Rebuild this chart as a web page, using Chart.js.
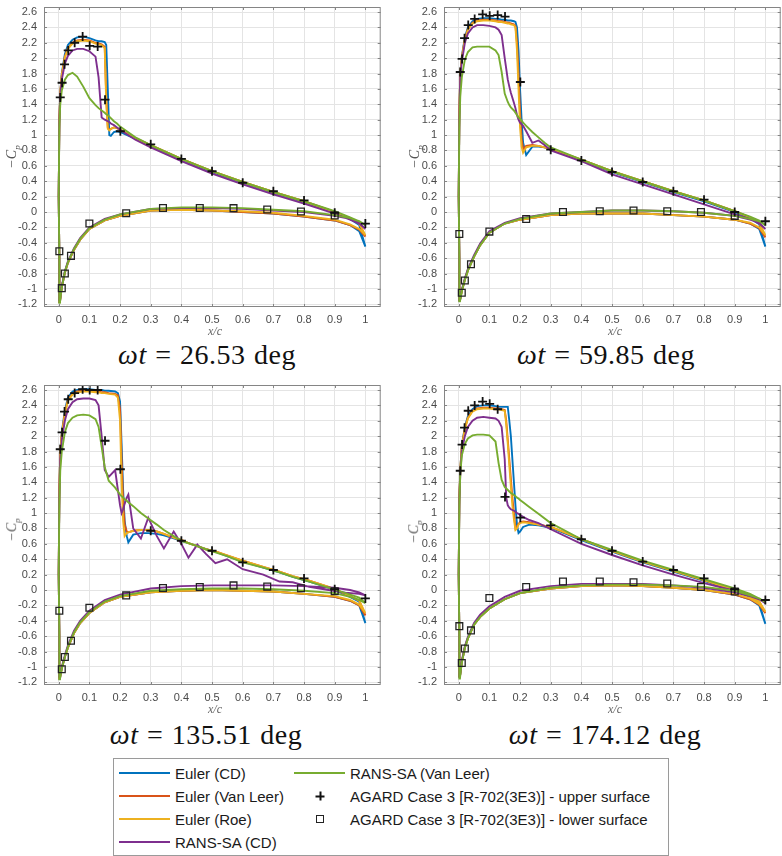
<!DOCTYPE html>
<html>
<head>
<meta charset="utf-8">
<script src="https://cdn.jsdelivr.net/npm/chart.js@4.4.0/dist/chart.umd.min.js"></script>
<style>
body { margin: 0; background: #fff; width: 782px; height: 856px; overflow: hidden; position: relative; font-family: "Liberation Sans", Arial, sans-serif; }
canvas { position: absolute; }
.ttl { position: absolute; font-family: "Liberation Serif", "DejaVu Serif", serif; font-size: 28px; letter-spacing: 0.5px; word-spacing: 1px; color: #111; white-space: nowrap; transform: translate(-50%, -50%); }
.xl { position: absolute; font-family: "Liberation Serif", serif; font-style: italic; font-size: 12px; color: #666; transform: translate(-50%, -50%); }
.yl { position: absolute; font-family: "Liberation Serif", serif; font-style: italic; font-size: 14px; color: #555; white-space: nowrap; transform: translate(-50%, -50%) rotate(-90deg); }
.yl sub { font-size: 9px; }
#legend { position: absolute; left: 113px; top: 758px; width: 556px; height: 98px; border: 1px solid #9a9a9a; box-sizing: border-box; background: #fff; }
.sw { position: absolute; height: 2px; }
.lt { position: absolute; font-size: 15px; color: #1a1a1a; white-space: nowrap; transform: translateY(-50%); }
.mk-plus { position: absolute; width: 9px; height: 9px; transform: translate(-50%, -50%); }
.mk-plus:before, .mk-plus:after { content: ""; position: absolute; background: #111; }
.mk-plus:before { left: 3.5px; top: 0; width: 2px; height: 9px; }
.mk-plus:after { top: 3.5px; left: 0; height: 2px; width: 9px; }
.mk-sq { position: absolute; width: 6px; height: 6px; border: 1.5px solid #222; transform: translate(-50%, -50%); }
</style>
</head>
<body>
<canvas id="c1" width="387" height="331" style="left:0px;top:0px"></canvas>
<canvas id="c2" width="387" height="331" style="left:400px;top:0px"></canvas>
<canvas id="c3" width="387" height="331" style="left:0px;top:378px"></canvas>
<canvas id="c4" width="387" height="331" style="left:400px;top:378px"></canvas>

<div class="yl" style="left:13px;top:157px">&minus;C<sub>p</sub></div>
<div class="yl" style="left:416px;top:157px">&minus;C<sub>p</sub></div>
<div class="yl" style="left:13px;top:530px">&minus;C<sub>p</sub></div>
<div class="yl" style="left:415px;top:532px">&minus;C<sub>p</sub></div>

<div class="xl" style="left:215px;top:331px">x/c</div>
<div class="xl" style="left:615px;top:331px">x/c</div>
<div class="xl" style="left:215px;top:709px">x/c</div>
<div class="xl" style="left:615px;top:709px">x/c</div>

<div class="ttl" style="left:207px;top:355px"><i>ωt</i> = 26.53 deg</div>
<div class="ttl" style="left:606px;top:355px"><i>ωt</i> = 59.85 deg</div>
<div class="ttl" style="left:206px;top:735px"><i>ωt</i> = 135.51 deg</div>
<div class="ttl" style="left:605px;top:735px"><i>ωt</i> = 174.12 deg</div>

<div id="legend"></div>

<script>
const xTicks = [0, 0.1, 0.2, 0.3, 0.4, 0.5, 0.6, 0.7, 0.8, 0.9, 1];
const yTicks = [-1.2, -1, -0.8, -0.6, -0.4, -0.2, 0, 0.2, 0.4, 0.6, 0.8, 1, 1.2, 1.4, 1.6, 1.8, 2, 2.2, 2.4, 2.6];

const seriesNames = ['Euler (CD)', 'Euler (Van Leer)', 'Euler (Roe)', 'RANS-SA (CD)', 'RANS-SA (Van Leer)'];
const expNames = ['AGARD Case 3 [R-702(3E3)] - upper surface', 'AGARD Case 3 [R-702(3E3)] - lower surface'];

// lower surface stations, trailing edge -> leading edge
const lowX = [1.0, 0.98, 0.95, 0.9, 0.8, 0.7, 0.6, 0.5, 0.4, 0.3, 0.2, 0.15, 0.1, 0.07, 0.05, 0.03, 0.02, 0.01, 0.006, 0.004, 0.002];

// experiment stations
const xExpUp = [0.005, 0.011, 0.019, 0.031, 0.052, 0.078, 0.101, 0.127, 0.151, 0.201, 0.3, 0.4, 0.5, 0.6, 0.7, 0.8, 0.9, 1.0];
const xExpLow = [0.002, 0.01, 0.02, 0.04, 0.1, 0.22, 0.34, 0.46, 0.57, 0.68, 0.79, 0.9];

// ---- wt = 26.53 ----
const upX1 = [0, 0.002, 0.005, 0.01, 0.02, 0.03, 0.045, 0.06, 0.08, 0.1, 0.12, 0.13, 0.14, 0.15, 0.155, 0.16, 0.165, 0.17, 0.18, 0.19, 0.2, 0.25, 0.3, 0.4, 0.5, 0.6, 0.7, 0.8, 0.9, 0.95, 0.98, 1.0];
const cdUp1 = [0.2, 1.2, 1.55, 1.8, 2.05, 2.17, 2.24, 2.27, 2.28, 2.26, 2.23, 2.22, 2.22, 2.21, 2.17, 1.6, 1.0, 0.99, 1.04, 1.05, 1.04, 0.95, 0.86, 0.68, 0.52, 0.38, 0.25, 0.13, -0.01, -0.09, -0.17, -0.45];
const vlUp1 = [0.2, 1.2, 1.55, 1.78, 2.02, 2.13, 2.2, 2.23, 2.24, 2.23, 2.2, 2.19, 2.18, 2.15, 1.5, 1.1, 1.07, 1.08, 1.1, 1.09, 1.07, 0.96, 0.87, 0.69, 0.53, 0.39, 0.26, 0.14, 0.0, -0.08, -0.15, -0.32];
const roeUp1 = [0.2, 1.2, 1.55, 1.78, 2.01, 2.12, 2.19, 2.22, 2.23, 2.22, 2.19, 2.18, 2.17, 2.13, 1.4, 1.08, 1.06, 1.08, 1.1, 1.09, 1.07, 0.96, 0.87, 0.69, 0.53, 0.39, 0.26, 0.14, 0.0, -0.08, -0.15, -0.3];
const saCdUp1 = [0.2, 1.15, 1.5, 1.72, 1.93, 2.03, 2.1, 2.12, 2.12, 2.09, 2.02, 1.75, 1.23, 1.2, 1.19, 1.18, 1.17, 1.15, 1.13, 1.1, 1.07, 0.94, 0.84, 0.66, 0.5, 0.36, 0.23, 0.11, -0.02, -0.1, -0.15, -0.22];
const saVlUp1 = [0.2, 1.1, 1.4, 1.58, 1.72, 1.78, 1.81, 1.76, 1.63, 1.48, 1.39, 1.35, 1.32, 1.29, 1.27, 1.26, 1.24, 1.22, 1.18, 1.15, 1.11, 0.97, 0.87, 0.69, 0.53, 0.39, 0.26, 0.14, 0.01, -0.07, -0.12, -0.17];
const cdLow1 = [-0.45, -0.25, -0.17, -0.11, -0.06, -0.02, 0.0, 0.02, 0.03, 0.02, -0.05, -0.11, -0.22, -0.36, -0.49, -0.66, -0.79, -0.98, -1.1, -1.17, -0.6];
const vlLow1 = [-0.32, -0.23, -0.17, -0.11, -0.06, -0.02, 0.0, 0.02, 0.03, 0.02, -0.05, -0.11, -0.22, -0.36, -0.49, -0.66, -0.79, -0.98, -1.1, -1.17, -0.6];
const roeLow1 = [-0.3, -0.22, -0.16, -0.1, -0.05, -0.01, 0.01, 0.02, 0.03, 0.02, -0.05, -0.11, -0.22, -0.36, -0.49, -0.66, -0.79, -0.98, -1.1, -1.16, -0.6];
const saCdLow1 = [-0.22, -0.14, -0.09, -0.05, 0.0, 0.02, 0.04, 0.05, 0.05, 0.04, -0.03, -0.09, -0.2, -0.34, -0.47, -0.64, -0.77, -0.96, -1.08, -1.15, -0.6];
const saVlLow1 = [-0.17, -0.12, -0.08, -0.04, 0.01, 0.03, 0.05, 0.06, 0.06, 0.04, -0.03, -0.1, -0.21, -0.35, -0.48, -0.65, -0.78, -0.98, -1.1, -1.18, -0.6];
const expUp1 = [1.49, 1.68, 1.92, 2.1, 2.2, 2.28, 2.16, 2.15, 1.46, 1.05, 0.88, 0.69, 0.53, 0.38, 0.27, 0.15, -0.01, -0.15];
const expLow1 = [-0.51, -0.99, -0.8, -0.57, -0.15, -0.016, 0.053, 0.053, 0.05, 0.032, 0.006, -0.046];

// ---- wt = 59.85 ----
const upX2 = [0, 0.002, 0.005, 0.01, 0.02, 0.03, 0.045, 0.06, 0.08, 0.1, 0.12, 0.13, 0.14, 0.15, 0.16, 0.165, 0.17, 0.18, 0.185, 0.19, 0.195, 0.2, 0.205, 0.21, 0.22, 0.24, 0.26, 0.28, 0.3, 0.4, 0.5, 0.6, 0.7, 0.8, 0.9, 0.95, 0.98, 1.0];
const cdUp2 = [0.2, 1.3, 1.8, 2.02, 2.27, 2.4, 2.48, 2.51, 2.52, 2.52, 2.51, 2.51, 2.5, 2.5, 2.49, 2.49, 2.49, 2.48, 2.47, 2.4, 2.1, 1.6, 1.2, 0.9, 0.74, 0.85, 0.85, 0.84, 0.82, 0.67, 0.52, 0.39, 0.26, 0.14, 0.0, -0.08, -0.16, -0.45];
const vlUp2 = [0.2, 1.3, 1.8, 2.0, 2.25, 2.38, 2.46, 2.49, 2.5, 2.5, 2.49, 2.48, 2.48, 2.47, 2.46, 2.46, 2.45, 2.44, 2.42, 2.2, 1.8, 1.3, 0.95, 0.82, 0.86, 0.87, 0.86, 0.84, 0.82, 0.68, 0.53, 0.4, 0.27, 0.15, 0.01, -0.07, -0.14, -0.33];
const roeUp2 = [0.2, 1.3, 1.8, 2.0, 2.24, 2.37, 2.45, 2.48, 2.49, 2.49, 2.48, 2.47, 2.47, 2.46, 2.45, 2.45, 2.44, 2.43, 2.4, 2.1, 1.6, 1.1, 0.85, 0.77, 0.84, 0.86, 0.86, 0.84, 0.82, 0.68, 0.53, 0.4, 0.27, 0.15, 0.01, -0.07, -0.14, -0.3];
const saCdUp2 = [0.2, 1.2, 1.75, 1.95, 2.2, 2.32, 2.4, 2.43, 2.43, 2.42, 2.4, 2.37, 2.3, 2.0, 1.72, 1.63, 1.55, 1.42, 1.35, 1.26, 1.2, 1.16, 1.14, 1.12, 1.05, 0.9, 0.93, 0.87, 0.8, 0.66, 0.49, 0.36, 0.23, 0.1, -0.03, -0.09, -0.15, -0.22];
const saVlUp2 = [0.2, 1.1, 1.5, 1.75, 1.98, 2.08, 2.14, 2.15, 2.15, 2.15, 2.1, 2.04, 1.82, 1.54, 1.43, 1.39, 1.36, 1.32, 1.29, 1.26, 1.23, 1.21, 1.19, 1.16, 1.12, 1.04, 0.97, 0.9, 0.84, 0.68, 0.53, 0.4, 0.27, 0.15, 0.01, -0.06, -0.11, -0.17];
const cdLow2 = [-0.45, -0.22, -0.15, -0.1, -0.06, -0.04, -0.02, -0.02, -0.02, -0.04, -0.1, -0.15, -0.27, -0.43, -0.58, -0.76, -0.88, -1.03, -1.11, -1.15, -0.6];
const vlLow2 = [-0.33, -0.21, -0.15, -0.1, -0.06, -0.04, -0.02, -0.02, -0.02, -0.04, -0.1, -0.15, -0.27, -0.43, -0.58, -0.76, -0.88, -1.03, -1.11, -1.15, -0.6];
const roeLow2 = [-0.3, -0.2, -0.14, -0.1, -0.06, -0.04, -0.02, -0.02, -0.02, -0.04, -0.1, -0.15, -0.27, -0.43, -0.58, -0.76, -0.88, -1.03, -1.11, -1.14, -0.6];
const saCdLow2 = [-0.22, -0.14, -0.1, -0.05, -0.01, 0.01, 0.02, 0.02, 0.0, -0.02, -0.08, -0.14, -0.25, -0.41, -0.56, -0.74, -0.86, -1.01, -1.1, -1.14, -0.6];
const saVlLow2 = [-0.17, -0.12, -0.09, -0.05, -0.01, 0.01, 0.02, 0.02, 0.0, -0.02, -0.09, -0.15, -0.27, -0.43, -0.58, -0.76, -0.88, -1.03, -1.12, -1.16, -0.6];
const expUp2 = [1.82, 1.99, 2.26, 2.43, 2.51, 2.57, 2.55, 2.56, 2.54, 1.69, 0.81, 0.67, 0.52, 0.39, 0.27, 0.16, 0.0, -0.12];
const expLow2 = [-0.285, -1.05, -0.89, -0.68, -0.255, -0.09, 0.0, 0.01, 0.02, 0.01, 0.0, -0.05];

// ---- wt = 135.51 ----
const upX3 = [0, 0.002, 0.005, 0.01, 0.02, 0.03, 0.045, 0.06, 0.08, 0.1, 0.12, 0.13, 0.14, 0.15, 0.163, 0.184, 0.193, 0.2, 0.205, 0.21, 0.215, 0.222, 0.227, 0.243, 0.268, 0.292, 0.32, 0.343, 0.375, 0.4, 0.423, 0.452, 0.48, 0.511, 0.549, 0.6, 0.667, 0.72, 0.763, 0.817, 0.88, 0.935, 0.98, 1.0];
const cdUp3 = [0.2, 1.3, 1.8, 2.05, 2.33, 2.5, 2.58, 2.6, 2.61, 2.61, 2.6, 2.6, 2.6, 2.59, 2.59, 2.58, 2.56, 2.45, 1.9, 1.3, 0.9, 0.7, 0.62, 0.72, 0.74, 0.74, 0.73, 0.71, 0.67, 0.64, 0.61, 0.57, 0.53, 0.5, 0.44, 0.37, 0.29, 0.23, 0.17, 0.11, 0.03, -0.06, -0.15, -0.43];
const vlUp3 = [0.2, 1.3, 1.8, 2.03, 2.3, 2.47, 2.55, 2.58, 2.59, 2.59, 2.58, 2.58, 2.57, 2.57, 2.56, 2.55, 2.53, 2.35, 1.7, 1.15, 0.85, 0.76, 0.75, 0.77, 0.78, 0.78, 0.76, 0.73, 0.68, 0.65, 0.61, 0.57, 0.53, 0.5, 0.45, 0.38, 0.3, 0.24, 0.18, 0.12, 0.04, -0.05, -0.14, -0.33];
const roeUp3 = [0.2, 1.3, 1.8, 2.02, 2.29, 2.46, 2.54, 2.57, 2.58, 2.58, 2.57, 2.57, 2.56, 2.56, 2.55, 2.54, 2.5, 2.2, 1.4, 0.9, 0.7, 0.74, 0.75, 0.77, 0.78, 0.78, 0.76, 0.73, 0.68, 0.65, 0.61, 0.57, 0.53, 0.5, 0.45, 0.38, 0.3, 0.24, 0.18, 0.12, 0.04, -0.05, -0.14, -0.3];
const saCdUp3 = [0.2, 1.2, 1.7, 1.95, 2.2, 2.35, 2.44, 2.48, 2.49, 2.49, 2.47, 2.4, 2.0, 1.56, 1.47, 1.56, 1.3, 1.1, 1.0, 1.05, 1.12, 1.2, 1.24, 0.8, 0.67, 0.94, 0.7, 0.54, 0.76, 0.6, 0.42, 0.59, 0.47, 0.35, 0.4, 0.27, 0.2, 0.11, 0.1, 0.04, 0.0, -0.035, -0.05, -0.07];
const saVlUp3 = [0.2, 1.1, 1.55, 1.8, 2.05, 2.17, 2.24, 2.27, 2.28, 2.27, 2.22, 2.12, 1.86, 1.6, 1.42, 1.33, 1.28, 1.24, 1.22, 1.2, 1.18, 1.16, 1.14, 1.09, 1.0, 0.93, 0.85, 0.78, 0.7, 0.64, 0.61, 0.57, 0.53, 0.49, 0.44, 0.36, 0.29, 0.23, 0.17, 0.11, 0.03, -0.04, -0.1, -0.17];
const cdLow3 = [-0.43, -0.2, -0.14, -0.09, -0.05, -0.02, -0.01, 0.0, -0.01, -0.03, -0.09, -0.16, -0.3, -0.43, -0.56, -0.75, -0.87, -1.02, -1.1, -1.15, -0.6];
const vlLow3 = [-0.33, -0.2, -0.14, -0.09, -0.05, -0.02, -0.01, 0.0, -0.01, -0.03, -0.09, -0.16, -0.3, -0.43, -0.56, -0.75, -0.87, -1.02, -1.1, -1.15, -0.6];
const roeLow3 = [-0.3, -0.19, -0.13, -0.08, -0.05, -0.02, -0.01, 0.0, -0.01, -0.03, -0.09, -0.16, -0.3, -0.43, -0.56, -0.75, -0.87, -1.02, -1.1, -1.14, -0.6];
const saCdLow3 = [-0.07, -0.03, 0.0, 0.03, 0.05, 0.06, 0.06, 0.06, 0.05, 0.02, -0.06, -0.13, -0.27, -0.4, -0.53, -0.72, -0.85, -1.0, -1.09, -1.13, -0.6];
const saVlLow3 = [-0.17, -0.13, -0.09, -0.04, -0.01, 0.01, 0.02, 0.02, 0.01, -0.01, -0.08, -0.15, -0.29, -0.42, -0.55, -0.74, -0.87, -1.02, -1.11, -1.16, -0.6];
const expUp3 = [1.83, 2.05, 2.32, 2.48, 2.56, 2.61, 2.6, 2.6, 1.94, 1.57, 0.77, 0.64, 0.51, 0.36, 0.26, 0.15, 0.01, -0.11];
const expLow3 = [-0.27, -1.03, -0.87, -0.66, -0.23, -0.07, 0.026, 0.04, 0.06, 0.044, 0.022, -0.017];

// ---- wt = 174.12 ----
const upX4 = [0, 0.002, 0.005, 0.01, 0.02, 0.03, 0.045, 0.06, 0.08, 0.1, 0.12, 0.13, 0.14, 0.15, 0.155, 0.16, 0.165, 0.17, 0.175, 0.18, 0.185, 0.19, 0.195, 0.2, 0.21, 0.23, 0.26, 0.3, 0.4, 0.5, 0.6, 0.7, 0.8, 0.9, 0.95, 0.98, 1.0];
const cdUp4 = [0.2, 1.2, 1.55, 1.88, 2.12, 2.26, 2.35, 2.39, 2.4, 2.4, 2.39, 2.38, 2.38, 2.38, 2.38, 2.38, 2.2, 2.0, 1.7, 1.4, 1.1, 0.85, 0.74, 0.76, 0.82, 0.85, 0.84, 0.81, 0.65, 0.5, 0.36, 0.24, 0.12, -0.01, -0.09, -0.17, -0.44];
const vlUp4 = [0.2, 1.2, 1.55, 1.86, 2.1, 2.24, 2.33, 2.36, 2.37, 2.37, 2.36, 2.36, 2.35, 2.34, 2.2, 1.95, 1.7, 1.45, 1.2, 1.0, 0.8, 0.82, 0.86, 0.88, 0.89, 0.88, 0.85, 0.82, 0.66, 0.51, 0.37, 0.25, 0.13, 0.0, -0.08, -0.15, -0.3];
const roeUp4 = [0.2, 1.2, 1.55, 1.86, 2.09, 2.23, 2.32, 2.35, 2.36, 2.36, 2.35, 2.35, 2.34, 2.33, 2.15, 1.9, 1.62, 1.35, 1.1, 0.92, 0.78, 0.8, 0.85, 0.87, 0.88, 0.87, 0.85, 0.82, 0.66, 0.51, 0.37, 0.25, 0.13, 0.0, -0.08, -0.15, -0.28];
const saCdUp4 = [0.2, 1.15, 1.5, 1.8, 2.0, 2.12, 2.2, 2.24, 2.25, 2.24, 2.23, 2.2, 2.12, 1.7, 1.2, 1.1, 1.07, 1.05, 1.04, 1.03, 1.02, 1.0, 0.99, 0.975, 0.95, 0.91, 0.87, 0.79, 0.6, 0.455, 0.32, 0.2, 0.09, -0.01, -0.07, -0.12, -0.17];
const saVlUp4 = [0.2, 1.1, 1.5, 1.75, 1.9, 1.97, 2.01, 2.02, 2.02, 2.01, 1.93, 1.65, 1.43, 1.34, 1.32, 1.3, 1.28, 1.26, 1.25, 1.235, 1.22, 1.2, 1.19, 1.17, 1.14, 1.08, 0.99, 0.87, 0.66, 0.52, 0.38, 0.26, 0.14, 0.02, -0.05, -0.11, -0.16];
const cdLow4 = [-0.44, -0.2, -0.12, -0.06, 0.0, 0.03, 0.05, 0.06, 0.05, 0.02, -0.04, -0.12, -0.24, -0.35, -0.45, -0.63, -0.75, -0.94, -1.06, -1.13, -0.6];
const vlLow4 = [-0.3, -0.19, -0.12, -0.06, 0.0, 0.03, 0.05, 0.06, 0.05, 0.02, -0.04, -0.12, -0.24, -0.35, -0.45, -0.63, -0.75, -0.94, -1.06, -1.13, -0.6];
const roeLow4 = [-0.28, -0.18, -0.11, -0.05, 0.0, 0.03, 0.05, 0.06, 0.05, 0.02, -0.04, -0.12, -0.24, -0.35, -0.45, -0.63, -0.75, -0.94, -1.06, -1.12, -0.6];
const saCdLow4 = [-0.17, -0.12, -0.08, -0.03, 0.03, 0.06, 0.08, 0.08, 0.08, 0.05, -0.01, -0.09, -0.21, -0.32, -0.43, -0.61, -0.73, -0.92, -1.05, -1.12, -0.6];
const saVlLow4 = [-0.16, -0.11, -0.07, -0.01, 0.04, 0.06, 0.07, 0.07, 0.06, 0.03, -0.04, -0.12, -0.24, -0.35, -0.45, -0.63, -0.75, -0.95, -1.07, -1.15, -0.6];
const expUp4 = [1.55, 1.89, 2.11, 2.33, 2.4, 2.45, 2.42, 2.35, 1.21, 0.94, 0.84, 0.66, 0.51, 0.37, 0.26, 0.15, 0.01, -0.13];
const expLow4 = [-0.47, -0.95, -0.76, -0.525, -0.104, 0.04, 0.11, 0.11, 0.1, 0.085, 0.04, -0.02];

const colors = ['#0072BD', '#D95319', '#EDB120', '#7E2F8E', '#77AC30'];
const tickFont = { family: '"Liberation Sans", Arial, sans-serif', size: 11 };
const tickColor = '#4a4a4a';

const fmt = v => String(Math.round(v * 10) / 10);

// path round the airfoil: lower TE->LE, then upper LE->TE
function curve(upX, upV, lowV) {
    return lowX.map((x, i) => ({ x, y: lowV[i] }))
        .concat(upX.map((x, i) => ({ x, y: upV[i] })));
}

const frame = {
    id: 'frame',
    afterDraw(chart) {
        const { ctx, chartArea: a, scales: { x, y } } = chart;
        ctx.save();
        ctx.strokeStyle = '#858585';
        ctx.lineWidth = 1;
        ctx.strokeRect(a.left + 0.5, a.top + 0.5, a.right - a.left - 1, a.bottom - a.top - 1);
        ctx.beginPath();
        x.ticks.forEach(t => {
            const p = Math.round(x.getPixelForValue(t.value)) + 0.5;
            ctx.moveTo(p, a.bottom); ctx.lineTo(p, a.bottom - 3);
            ctx.moveTo(p, a.top); ctx.lineTo(p, a.top + 3);
        });
        y.ticks.forEach(t => {
            const p = Math.round(y.getPixelForValue(t.value)) + 0.5;
            ctx.moveTo(a.left, p); ctx.lineTo(a.left + 3, p);
            ctx.moveTo(a.right, p); ctx.lineTo(a.right - 3, p);
        });
        ctx.stroke();
        ctx.restore();
    }
};

function makeChart(id, upX, ups, lows, expUp, expLow) {
    const datasets = [
        {
            label: expNames[0], data: xExpUp.map((x, i) => ({ x, y: expUp[i] })),
            pointStyle: 'cross', pointRadius: 4.5, borderColor: '#111', borderWidth: 1.8, showLine: false, order: 0
        },
        {
            label: expNames[1], data: xExpLow.map((x, i) => ({ x, y: expLow[i] })),
            pointStyle: 'rect', pointRadius: 4.8, borderColor: '#222', backgroundColor: 'rgba(0,0,0,0)', borderWidth: 1.3, showLine: false, order: 0
        }
    ];
    // green on top, blue at the bottom
    ups.forEach((u, k) => {
        datasets.push({
            label: seriesNames[k], data: curve(upX, u, lows[k]), showLine: true,
            borderColor: colors[k], borderWidth: 1.9, pointRadius: 0, tension: 0, order: 5 - k
        });
    });

    return new Chart(document.getElementById(id), {
        type: 'scatter',
        data: { datasets },
        plugins: [frame],
        options: {
            responsive: false,
            animation: false,
            events: [],
            layout: { padding: { top: 7, left: 0, right: 0, bottom: 0 } },
            plugins: { legend: { display: false }, tooltip: { enabled: false } },
            scales: {
                x: {
                    type: 'linear', min: -0.048, max: 1.05,
                    afterBuildTicks: s => { s.ticks = xTicks.map(v => ({ value: v })); },
                    afterFit: s => { s.height = 24; s.paddingLeft = 0; s.paddingRight = 0; },
                    grid: { color: '#e4e4e4', drawTicks: false },
                    border: { display: false },
                    ticks: { padding: 6, font: tickFont, color: tickColor, maxRotation: 0, autoSkip: false, callback: fmt }
                },
                y: {
                    type: 'linear', min: -1.235, max: 2.665,
                    afterBuildTicks: s => { s.ticks = yTicks.map(v => ({ value: v })); },
                    afterFit: s => { s.width = 44; s.paddingTop = 0; s.paddingBottom = 0; },
                    grid: { color: '#e4e4e4', drawTicks: false },
                    border: { display: false },
                    ticks: { padding: 7, font: tickFont, color: tickColor, autoSkip: false, callback: fmt }
                }
            }
        }
    });
}

makeChart('c1', upX1, [cdUp1, vlUp1, roeUp1, saCdUp1, saVlUp1], [cdLow1, vlLow1, roeLow1, saCdLow1, saVlLow1], expUp1, expLow1);
makeChart('c2', upX2, [cdUp2, vlUp2, roeUp2, saCdUp2, saVlUp2], [cdLow2, vlLow2, roeLow2, saCdLow2, saVlLow2], expUp2, expLow2);
makeChart('c3', upX3, [cdUp3, vlUp3, roeUp3, saCdUp3, saVlUp3], [cdLow3, vlLow3, roeLow3, saCdLow3, saVlLow3], expUp3, expLow3);
makeChart('c4', upX4, [cdUp4, vlUp4, roeUp4, saCdUp4, saVlUp4], [cdLow4, vlLow4, roeLow4, saCdLow4, saVlLow4], expUp4, expLow4);

// legend: two columns inside a framed box
const legend = document.getElementById('legend');
const rowY = [14, 37, 60, 83];
seriesNames.forEach((name, k) => {
    const col = k < 4 ? 0 : 1;
    const row = k < 4 ? k : 0;
    const x0 = col === 0 ? 5 : 180;
    legend.innerHTML += `<div class="sw" style="left:${x0}px;top:${rowY[row] - 1}px;width:51px;background:${colors[k]}"></div>
        <div class="lt" style="left:${x0 + 56}px;top:${rowY[row]}px">${name}</div>`;
});
legend.innerHTML += `<div class="mk-plus" style="left:206px;top:${rowY[1]}px"></div>
    <div class="lt" style="left:236px;top:${rowY[1]}px">${expNames[0]}</div>
    <div class="mk-sq" style="left:206px;top:${rowY[2]}px"></div>
    <div class="lt" style="left:236px;top:${rowY[2]}px">${expNames[1]}</div>`;
</script>
</body>
</html>
